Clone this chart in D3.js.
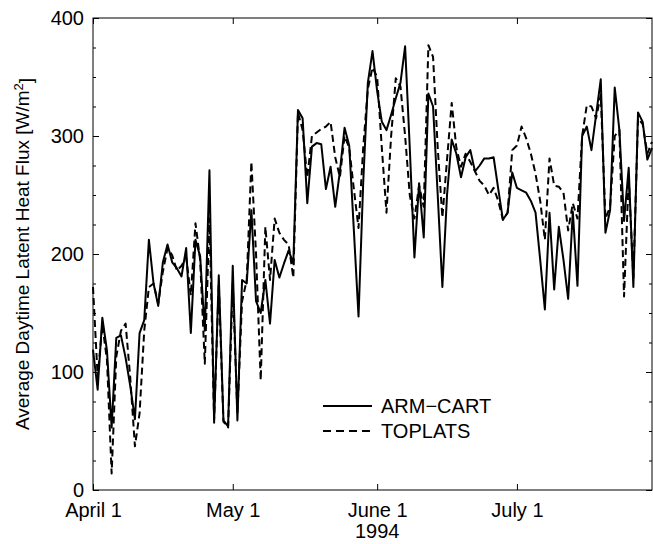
<!DOCTYPE html>
<html>
<head>
<meta charset="utf-8">
<script src="https://cdn.jsdelivr.net/npm/d3@7.9.0/dist/d3.min.js"></script>
<style>
  html, body { margin: 0; padding: 0; background: #fff; }
  svg { display: block; font-family: "Liberation Sans", Arial, Helvetica, sans-serif; }
  .axis text { font-size: 20px; fill: #000; }
  .axis path { display: none; }
  .axis line { stroke: #000; stroke-width: 1; }
</style>
</head>
<body>
<svg id="chart" width="653" height="544"></svg>
<script>
// ---- data (daily values from April 1, 1994) ----
const START_DATE = new Date(1994, 3, 1);
const END_DATE = new Date(1994, 6, 30);

// ARM-CART observed (solid)
const armCart = [
  119, 85, 146, 118, 53, 129, 131, 112, 88, 60,
  133, 144, 212, 175, 156, 193, 208, 193, 188, 181,
  205, 133, 212, 198, 135, 271, 57, 182, 59, 54,
  190, 59, 178, 175, 237, 160, 150, 178, 141, 195,
  180, 192, 203, 192, 322, 315, 243, 291, 294, 293,
  255, 274, 240, 270, 307, 292, 220, 147, 260, 345,
  372, 338, 312, 305, 318, 332, 345, 376, 290, 197,
  260, 214, 336, 325, 250, 172, 250, 297, 285, 265,
  282, 288, 270, 275, 281, 281, 282, 255, 229, 235,
  269, 256, 254, 252, 245, 235, 195, 153, 235, 170,
  223, 195, 162, 236, 173, 300, 308, 288, 318, 348,
  218, 237, 341, 305, 228, 273, 172, 320, 312, 280,
  290
];

// TOPLATS model (dashed)
const toplats = [
  172, 96, 140, 110, 14, 113, 135, 141, 95, 37,
  65, 135, 172, 175, 158, 185, 205, 199, 186, 190,
  197, 165, 226, 195, 107, 230, 60, 175, 58, 53,
  175, 65, 160, 178, 278, 200, 93, 223, 178, 230,
  218, 212, 208, 180, 320, 305, 265, 300, 303, 306,
  308, 312, 282, 265, 300, 290, 255, 222, 290, 340,
  358, 350, 290, 235, 300, 349, 342, 300, 250, 230,
  258, 240, 377, 367, 290, 231, 280, 328, 290, 274,
  285, 278, 270, 262, 258, 250, 256, 245, 229, 235,
  288, 292, 308, 298, 285, 268, 245, 212, 281, 258,
  257, 252, 220, 243, 230, 300, 326, 325, 315, 335,
  230, 240, 300, 305, 164, 265, 180, 315, 310, 285,
  295
];

const monthTicks = [
  new Date(1994, 3, 1), new Date(1994, 4, 1),
  new Date(1994, 5, 1), new Date(1994, 6, 1)
];
const monthLabels = ['April 1', 'May 1', 'June 1', 'July 1'];
const yMajorTicks = [0, 100, 200, 300, 400];
const yMinorTicks = d3.range(0, 401, 25);

const seriesNames = ['ARM\u2212CART', 'TOPLATS'];

// ---- layout ----
const svg = d3.select('#chart');
const margin = { left: 93, right: 1, top: 18, bottom: 54 };
const W = +svg.attr('width');
const H = +svg.attr('height');

const x = d3.scaleTime()
  .domain([START_DATE, END_DATE])
  .range([margin.left, W - margin.right]);

const y = d3.scaleLinear()
  .domain([0, 400])
  .range([H - margin.bottom, margin.top]);

const dayOf = i => d3.timeDay.offset(START_DATE, i);

// frame
svg.append('rect')
  .attr('x', x.range()[0])
  .attr('y', y.range()[1])
  .attr('width', x.range()[1] - x.range()[0])
  .attr('height', y.range()[0] - y.range()[1])
  .attr('fill', 'none')
  .attr('stroke', '#000')
  .attr('stroke-width', 1);

// ---- axes (ticks point inward) ----
const fmtMonth = d => monthLabels[monthTicks.findIndex(m => +m === +d)];

svg.append('g')
  .attr('class', 'axis')
  .attr('transform', `translate(0,${y(0)})`)
  .call(d3.axisBottom(x).tickValues(monthTicks).tickFormat(fmtMonth)
    .tickSizeInner(-6).tickSizeOuter(0).tickPadding(13));

svg.append('g')
  .attr('class', 'axis')
  .attr('transform', `translate(0,${y(400)})`)
  .call(d3.axisTop(x).tickValues(monthTicks).tickFormat('')
    .tickSizeInner(-6).tickSizeOuter(0));

// left: labelled majors + minor ticks
svg.append('g')
  .attr('class', 'axis')
  .attr('transform', `translate(${x.range()[0]},0)`)
  .call(d3.axisLeft(y).tickValues(yMajorTicks).tickFormat(d3.format('d'))
    .tickSizeInner(-6).tickSizeOuter(0).tickPadding(9));

svg.append('g')
  .attr('class', 'axis')
  .attr('transform', `translate(${x.range()[0]},0)`)
  .call(d3.axisLeft(y).tickValues(yMinorTicks).tickFormat('')
    .tickSizeInner(-3).tickSizeOuter(0));

// right side ticks
svg.append('g')
  .attr('class', 'axis')
  .attr('transform', `translate(${x.range()[1]},0)`)
  .call(d3.axisRight(y).tickValues(yMajorTicks).tickFormat('')
    .tickSizeInner(-6).tickSizeOuter(0));

svg.append('g')
  .attr('class', 'axis')
  .attr('transform', `translate(${x.range()[1]},0)`)
  .call(d3.axisRight(y).tickValues(yMinorTicks).tickFormat('')
    .tickSizeInner(-3).tickSizeOuter(0));

// axis titles
svg.append('text')
  .attr('x', x(new Date(1994, 5, 1)))
  .attr('y', 538)
  .attr('text-anchor', 'middle')
  .style('font-size', '20px')
  .text('1994');

const yTitle = svg.append('text')
  .attr('transform', `translate(29,${(y(0) + y(400)) / 2}) rotate(-90)`)
  .attr('text-anchor', 'middle')
  .style('font-size', '19px');
yTitle.append('tspan').text('Average Daytime Latent Heat Flux [W/m');
yTitle.append('tspan').attr('dy', '-0.45em').style('font-size', '13px').text('2');
yTitle.append('tspan').attr('dy', '0.45em').text(']');

// ---- lines ----
const line = d3.line()
  .x((d, i) => x(dayOf(i)))
  .y(d => y(d));

svg.append('path')
  .datum(toplats)
  .attr('d', line)
  .attr('fill', 'none')
  .attr('stroke', '#000')
  .attr('stroke-width', 2)
  .attr('stroke-dasharray', '7,4')
  .attr('stroke-linejoin', 'round');

svg.append('path')
  .datum(armCart)
  .attr('d', line)
  .attr('fill', 'none')
  .attr('stroke', '#000')
  .attr('stroke-width', 2)
  .attr('stroke-linejoin', 'round');

// ---- legend ----
const legend = svg.append('g').attr('transform', 'translate(323,406)');
seriesNames.forEach((name, i) => {
  const g = legend.append('g').attr('transform', `translate(0,${i * 25})`);
  g.append('line')
    .attr('x1', 0).attr('x2', 49)
    .attr('y1', 0).attr('y2', 0)
    .attr('stroke', '#000')
    .attr('stroke-width', 2.2)
    .attr('stroke-dasharray', i === 1 ? '8,5' : null);
  g.append('text')
    .attr('x', 58)
    .attr('y', 0)
    .attr('dy', '0.35em')
    .style('font-size', '20px')
    .text(name);
});
</script>
</body>
</html>
